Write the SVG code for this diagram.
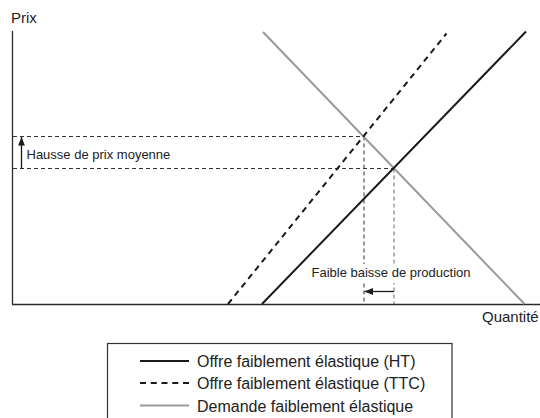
<svg xmlns="http://www.w3.org/2000/svg" width="540" height="418" viewBox="0 0 540 418">
  <style>
    text { font-family: "Liberation Sans", Arial, sans-serif; fill: #222; }
    .axis { stroke: #2a2a2a; stroke-width: 1.3; fill: none; }
    .supply { stroke: #1a1a1a; stroke-width: 2; fill: none; }
    .supplyttc { stroke: #1a1a1a; stroke-width: 2; fill: none; stroke-dasharray: 6 4.75; }
    .demand { stroke: #999; stroke-width: 2; fill: none; }
    .guide { stroke: #333; stroke-width: 1; fill: none; stroke-dasharray: 4 3; }
    .guide2 { stroke: #666; stroke-width: 1; fill: none; stroke-dasharray: 4 3; }
    .arrow { stroke: #1a1a1a; stroke-width: 1.3; fill: none; }
    .lbl { font-size: 13px; }
    .leg { font-size: 16px; }
  </style>
  <defs>
    <marker id="ah" viewBox="0 0 10 8" refX="10" refY="4" markerWidth="8.5" markerHeight="7" markerUnits="userSpaceOnUse" orient="auto">
      <path d="M0,0 L10,4 L0,8 Z" fill="#1a1a1a"/>
    </marker>
  </defs>

  <g id="axes">
    <line class="axis" x1="12.5" y1="31" x2="12.5" y2="304.5"/>
    <line class="axis" x1="12" y1="304.5" x2="540" y2="304.5"/>
    <text x="11" y="22.5" style="font-size:15px">Prix</text>
    <text x="482" y="321.5" style="font-size:15px">Quantité</text>
  </g>

  <g id="connectors">
    <line class="guide" x1="13" y1="136.5" x2="364" y2="136.5"/>
    <line class="guide" x1="13" y1="168.5" x2="394" y2="168.5"/>
    <line class="guide" x1="364" y1="136.5" x2="364" y2="304"/>
    <line class="guide2" x1="394" y1="168.5" x2="394" y2="304"/>
    <line class="arrow" x1="21.5" y1="168.5" x2="21.5" y2="137" marker-end="url(#ah)"/>
    <line class="arrow" x1="394" y1="291.5" x2="364.5" y2="291.5" marker-end="url(#ah)"/>
  </g>

  <g id="demand">
    <line class="demand" x1="263" y1="32" x2="524.5" y2="304"/>
  </g>
  <g id="supply-ttc">
    <line class="supplyttc" x1="228" y1="304" x2="446.5" y2="33.5"/>
  </g>
  <g id="supply-ht">
    <line class="supply" x1="262" y1="304" x2="526" y2="31.5"/>
  </g>

  <g id="label-hausse">
    <text class="lbl" x="26.5" y="158.5">Hausse de prix moyenne</text>
  </g>
  <g id="label-baisse">
    <rect x="309" y="264" width="166" height="19" fill="#fff"/>
    <text class="lbl" x="311.5" y="277">Faible baisse de production</text>
  </g>

  <g id="legend">
    <rect x="107.5" y="343.5" width="344.5" height="90" fill="none" stroke="#333" stroke-width="1.2"/>
    <line class="supply" x1="140" y1="361" x2="189" y2="361"/>
    <text class="leg" x="197" y="366.5">Offre faiblement élastique (HT)</text>
    <line class="supplyttc" x1="140" y1="383" x2="189" y2="383"/>
    <text class="leg" x="197" y="389">Offre faiblement élastique (TTC)</text>
    <line class="demand" x1="140" y1="405.5" x2="189" y2="405.5"/>
    <text class="leg" x="197" y="411.5">Demande faiblement élastique</text>
  </g>
</svg>
